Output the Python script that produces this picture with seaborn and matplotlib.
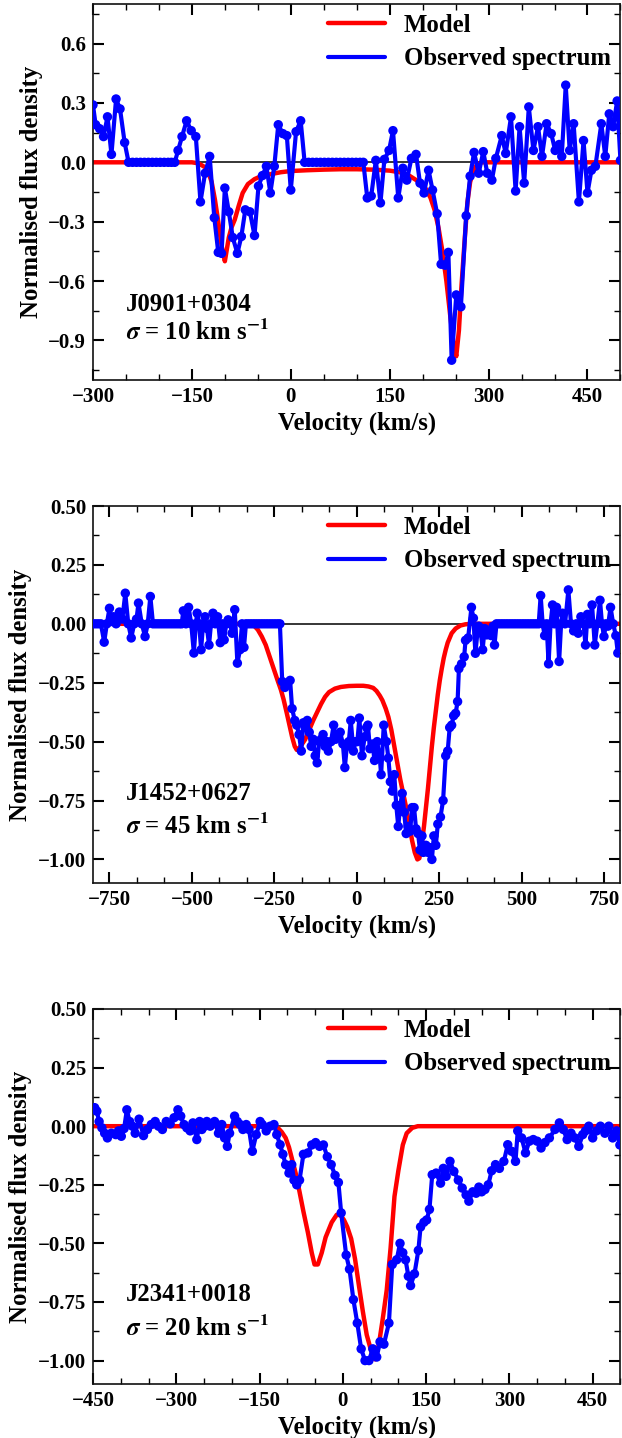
import matplotlib
matplotlib.use("Agg")
import matplotlib.pyplot as plt
from matplotlib.ticker import MultipleLocator, AutoMinorLocator
import seaborn as sns

# ---------------------------------------------------------------- J0901+0304
j0901_vel = [
    -300, -296, -290, -284, -278, -272, -265, -259, -252, -246, -240, -234,
    -228, -222, -216, -210, -204, -198, -192, -186, -181, -176, -171, -165,
    -158, -151, -144, -137, -130, -123, -116, -110, -105, -100, -94, -88,
    -81, -75, -69, -62, -55, -49, -43, -37, -31, -25, -19, -12, -6, 0, 8,
    15, 21, 27, 33, 39, 45, 51, 57, 63, 69, 75, 81, 87, 93, 99, 105, 110,
    116, 122, 129, 136, 142, 149, 155, 163, 170, 176, 183, 190, 196, 202,
    209, 215, 222, 228, 234, 239, 244, 251, 258, 266, 272, 278, 285, 292,
    298, 305, 311, 320, 326, 334, 341, 347, 354, 361, 368, 375, 381, 388,
    395, 401, 407, 411, 417, 423, 429, 437, 444, 450, 456, 462, 471, 477,
    483, 489, 495, 500,
]
j0901_flux = [
    0.29, 0.19, 0.17, 0.13, 0.23, 0.04, 0.32, 0.27, 0.10, 0.0, 0.0, 0.0,
    0.0, 0.0, 0.0, 0.0, 0.0, 0.0, 0.0, 0.0, 0.0, 0.0, 0.06, 0.13,
    0.21, 0.16, 0.13, -0.20, -0.055, 0.03, -0.28, -0.455, -0.46, -0.13, -0.25, -0.38,
    -0.46, -0.375, -0.24, -0.25, -0.37, -0.12, -0.067, -0.02, -0.155, -0.02, 0.19, 0.145, 0.135, -0.14, 0.155,
    0.21, 0.0, 0.0, 0.0, 0.0, 0.0, 0.0, 0.0, 0.0, 0.0, 0.0, 0.0, 0.0, 0.0, 0.0, 0.0, 0.0,
    -0.18, -0.17, 0.01, -0.205, 0.015, 0.06, 0.16, -0.18, -0.03, -0.09, 0.02, 0.04, -0.105, -0.155,
    -0.04, -0.14, -0.26, -0.515, -0.52, -0.455, -1.0, -0.67, -0.73, -0.27, -0.07, 0.05, -0.055, 0.054,
    -0.055, -0.09, 0.02, 0.135, 0.045, 0.23, -0.145, 0.18, -0.105, 0.28, 0.06, 0.18, 0.03, 0.195,
    0.145, 0.06, 0.09, 0.03, 0.39, 0.06, 0.195, -0.2, 0.11, -0.155, -0.04, -0.02, 0.195, 0.03,
    0.245, 0.18, 0.31, 0.01,
]
j0901_model_vel = [
    -300, -150, -140, -130, -125, -120, -115, -110, -105, -100, -97, -94,
    -90, -85, -79, -73, -65, -55, -45, -31, -15, 0, 25, 50, 75, 100, 125,
    150, 165, 180, 195, 205, 212, 218, 224, 230, 236, 242, 247, 251, 255,
    259, 264, 268, 272, 277, 283, 290, 500,
]
j0901_model_flux = [
    0.0, 0.0, -0.005, -0.025, -0.05, -0.10, -0.19, -0.30, -0.42, -0.50, -0.44, -0.38,
    -0.33, -0.29, -0.22, -0.155, -0.11, -0.085, -0.07, -0.06, -0.05, -0.044, -0.04, -0.037, -0.035, -0.035, -0.037,
    -0.042, -0.05, -0.068, -0.10, -0.135, -0.18, -0.24, -0.33, -0.45, -0.60, -0.78, -0.92, -0.98, -0.85,
    -0.62, -0.38, -0.20, -0.10, -0.04, -0.01, 0.0, 0.0,
]

# ---------------------------------------------------------------- J1452+0627
j1452_vel = [
    -800, -792, -784, -776, -766, -758, -750, -744, -738, -730, -720, -711,
    -702, -693, -684, -675, -668, -662, -652, -642, -634, -626, -618, -610,
    -602, -594, -586, -578, -570, -562, -554, -546, -538, -531, -526, -518,
    -510, -502, -494, -488, -484, -478, -472, -466, -460, -454, -448, -442,
    -436, -429, -422, -414, -408, -402, -396, -390, -384, -378, -370, -362,
    -354, -348, -342, -336, -328, -320, -312, -304, -296, -288, -280, -272,
    -264, -256, -248, -240, -233, -226, -218, -210, -202, -196, -188, -182,
    -175, -168, -162, -156, -150, -144, -138, -132, -126, -120, -114, -108,
    -102, -96, -90, -86, -78, -70, -64, -58, -50, -42, -36, -30, -24, -18,
    -10, -4, 2, 8, 16, 24, 30, 34, 40, 48, 54, 62, 70, 74, 82, 90, 96, 102,
    108, 114, 120, 126, 132, 138, 144, 150, 156, 162, 168, 174, 180, 186,
    192, 198, 202, 210, 216, 222, 228, 234, 240, 246, 254, 262, 270, 276,
    282, 288, 294, 300, 306, 310, 318, 326, 330, 338, 348, 354, 360, 366,
    370, 376, 382, 388, 394, 400, 408, 414, 418, 424, 432, 440, 448, 456,
    464, 472, 480, 488, 496, 504, 512, 520, 528, 536, 544, 552, 558, 564,
    570, 576, 582, 588, 594, 600, 606, 614, 620, 624, 632, 642, 650, 658,
    666, 672, 680, 688, 694, 700, 706, 714, 722, 730, 738, 744, 750, 756,
    762, 770, 778, 786, 792, 798,
]
j1452_flux = [
    0.0, 0.0, 0.0, 0.0, -0.078, 0.0, 0.066, 0.01, 0.03, 0.0, 0.05, 0.02,
    0.13, 0.0, -0.06, 0.0, 0.02, 0.088, 0.0, -0.054, 0.0, 0.116, 0.0, 0.0,
    0.0, 0.0, 0.0, 0.0, 0.0, 0.0, 0.0, 0.0, 0.0, 0.0, 0.055, 0.0,
    0.07, 0.0, -0.124, 0.0, 0.045, 0.0, -0.11, 0.0, 0.03, -0.02, -0.09, 0.0,
    0.045, 0.0, 0.03, -0.08, 0.0, -0.068, 0.0, 0.017, 0.0, -0.04, 0.06, -0.167,
    -0.11, 0.0, -0.10, 0.0, 0.0, 0.0, 0.0, 0.0, 0.0, 0.0, 0.0, 0.0,
    0.0, 0.0, 0.0, 0.0, 0.0, -0.245, -0.27, -0.25, -0.24, -0.36, -0.41, -0.43,
    -0.47, -0.54, -0.42, -0.44, -0.41, -0.46, -0.52, -0.49, -0.56, -0.59, -0.50, -0.49,
    -0.47, -0.52, -0.50, -0.54, -0.50, -0.43, -0.49, -0.47, -0.46, -0.51, -0.61, -0.52, -0.50, -0.41,
    -0.54, -0.50, -0.50, -0.40, -0.56, -0.48, -0.44, -0.43, -0.53, -0.51, -0.58, -0.50, -0.57, -0.64, -0.43, -0.50, -0.57, -0.67,
    -0.71, -0.64, -0.77, -0.86, -0.77, -0.72, -0.80, -0.89, -0.86, -0.88, -0.78, -0.78, -0.87, -0.89,
    -0.96, -0.90, -0.97, -0.94, -0.97, -0.95, -1.00, -0.90, -0.94, -0.85, -0.82, -0.75, -0.56, -0.54,
    -0.44, -0.43, -0.39, -0.38, -0.33, -0.19, -0.17, -0.14, -0.07, -0.06, 0.07, 0.024, -0.125, -0.04,
    -0.01, -0.03, -0.11, -0.02, -0.047, -0.03, -0.05, -0.01, -0.09, 0.0, 0.0, 0.0, 0.0, 0.0,
    0.0, 0.0, 0.0, 0.0, 0.0, 0.0, 0.0, 0.0, 0.0, 0.0, 0.0, 0.0, 0.12, 0.0,
    -0.05, 0.0, -0.17, 0.0, 0.08, 0.0, 0.07, -0.16, 0.0, 0.045, 0.0, 0.144, 0.0, -0.03,
    0.0, -0.04, 0.03, 0.0, -0.09, 0.04, 0.0, 0.08, -0.09, 0.0, 0.10, 0.0, -0.054, 0.0,
    -0.01, 0.07, 0.0, -0.05, -0.124, -0.07,
]
j1452_model_vel = [
    -800, -340, -324, -310, -300, -288, -276, -264, -252, -240, -230, -222,
    -212, -204, -196, -188, -182, -176, -168, -156, -144, -132, -120, -108,
    -96, -84, -66, -48, -24, 0, 20, 36, 50, 60, 70, 78, 88, 96, 105, 114,
    123, 132, 141, 150, 159, 168, 176, 184, 190, 196, 204, 210, 216, 222,
    228, 234, 240, 246, 252, 258, 264, 270, 276, 288, 300, 315, 330, 350, 800,
]
j1452_model_flux = [
    0.0, 0.0, -0.002, -0.01, -0.025, -0.054, -0.09, -0.14, -0.19, -0.24, -0.28, -0.32,
    -0.38, -0.43, -0.48, -0.52, -0.535, -0.53, -0.515, -0.49, -0.45, -0.41, -0.375, -0.34,
    -0.31, -0.29, -0.275, -0.268, -0.264, -0.263, -0.263, -0.266, -0.272, -0.285, -0.305, -0.325, -0.36, -0.395, -0.45, -0.52,
    -0.59, -0.66, -0.72, -0.78, -0.85, -0.92, -0.97, -1.0, -0.995, -0.95, -0.86, -0.78, -0.70, -0.61,
    -0.52, -0.44, -0.37, -0.30, -0.24, -0.19, -0.145, -0.11, -0.08, -0.04, -0.02, -0.007, -0.002, 0.0, 0.0,
]

# ---------------------------------------------------------------- J2341+0018
j2341_vel = [
    -447, -443, -439, -434, -429, -424, -417, -409, -404, -399, -394, -389,
    -384, -379, -374, -367, -359, -352, -345, -338, -332, -325, -318, -311,
    -304, -297, -292, -286, -281, -275, -270, -263, -258, -254, -249, -245,
    -239, -231, -224, -218, -213, -208, -204, -195, -190, -185, -180, -174,
    -169, -163, -156, -149, -145, -138, -131, -124, -119, -113, -108, -103,
    -97, -92, -88, -83, -78, -71, -63, -56, -49, -42, -35, -28, -21, -14,
    -8, -3, 6, 12, 19, 26, 33, 40, 47, 54, 61, 67, 74, 83, 89, 97, 103,
    108, 113, 118, 122, 129, 136, 140, 146, 151, 156, 161, 168, 176, 181,
    186, 193, 200, 208, 215, 222, 227, 234, 240, 245, 250, 256, 262, 268,
    275, 282, 290, 297, 304, 311, 315, 322, 329, 336, 343, 350, 357, 364,
    372, 382, 390, 397, 404, 411, 418, 425, 432, 437, 443, 450, 457, 464,
    472, 479, 486, 493, 499,
]
j2341_flux = [
    0.079, 0.064, 0.02, -0.007, -0.03, -0.05, -0.03, -0.036, -0.02, -0.043, -0.01, 0.07,
    0.02, 0.0, -0.03, 0.03, -0.04, -0.014, 0.007, 0.02, 0.0, -0.014, 0.02, 0.01,
    0.036, 0.07, 0.043, 0.007, -0.007, -0.02, 0.014, -0.057, 0.02, -0.014, 0.0, 0.02,
    0.0, 0.02, -0.03, 0.007, -0.05, -0.086, -0.03, 0.043, 0.02, 0.007, -0.014, 0.007,
    -0.014, -0.107, -0.036, 0.02, 0.007, -0.02, 0.0, 0.007, -0.036, -0.079, -0.12, -0.164,
    -0.20, -0.164, -0.23, -0.25, -0.23, -0.12, -0.114, -0.08, -0.07, -0.086, -0.08, -0.13, -0.164, -0.21,
    -0.24, -0.37, -0.55, -0.61, -0.74, -0.84, -0.95, -1.0, -1.0, -0.95, -0.985, -0.92, -0.93, -0.84, -0.59, -0.57, -0.50,
    -0.54, -0.57, -0.64, -0.68, -0.63, -0.53, -0.43, -0.41, -0.40, -0.355, -0.207, -0.20, -0.243, -0.18,
    -0.214, -0.15, -0.193, -0.23, -0.264, -0.293, -0.32, -0.28, -0.286, -0.26, -0.28, -0.27, -0.25, -0.19,
    -0.164, -0.18, -0.15, -0.079, -0.107, -0.15, -0.02, -0.05, -0.114, -0.064, -0.057, -0.064, -0.093, -0.07,
    -0.05, -0.014, 0.014, -0.014, -0.057, -0.03, -0.05, -0.086, -0.036, -0.02, 0.0, -0.05, -0.02, 0.0,
    -0.03, 0.0, -0.05, -0.02, -0.08,
]
j2341_model_vel = [
    -450, -130, -117, -110, -103, -97, -92, -85, -78, -71, -63, -56, -51,
    -45, -38, -31, -20, -11, -4, 2, 8, 15, 22, 29, 36, 43, 50, 55, 58, 65,
    72, 79, 86, 93, 100, 108, 115, 125, 135, 500,
]
j2341_model_flux = [
    0.0, 0.0, -0.007, -0.025, -0.05, -0.09, -0.136, -0.20, -0.28, -0.364, -0.453, -0.54, -0.59,
    -0.59, -0.54, -0.474, -0.41, -0.378, -0.38, -0.40, -0.43, -0.48, -0.567, -0.68, -0.79, -0.89, -0.95, -0.99, -0.995, -0.93,
    -0.82, -0.70, -0.52, -0.30, -0.19, -0.08, -0.03, -0.007, 0.0, 0.0,
]

panels = [
    dict(name="J0901+0304", sigma=10, vel=j0901_vel, flux=j0901_flux,
         mvel=j0901_model_vel, mflux=j0901_model_flux,
         xlim=(-300, 500), xstep=150, ylim=(-1.1, 0.8), ystep=0.3,
         rect=[0.1495, 1 - 380 / 1438, 0.848, 376 / 1438]),
    dict(name="J1452+0627", sigma=45, vel=j1452_vel, flux=j1452_flux,
         mvel=j1452_model_vel, mflux=j1452_model_flux,
         xlim=(-800, 800), xstep=250, ylim=(-1.1, 0.5), ystep=0.25,
         rect=[0.1495, 1 - 883 / 1438, 0.848, 377 / 1438]),
    dict(name="J2341+0018", sigma=20, vel=j2341_vel, flux=j2341_flux,
         mvel=j2341_model_vel, mflux=j2341_model_flux,
         xlim=(-450, 500), xstep=150, ylim=(-1.1, 0.5), ystep=0.25,
         rect=[0.1495, 1 - 1384 / 1438, 0.848, 375 / 1438]),
]

sns.set_style("ticks")
plt.rcParams.update({
    "font.family": ["Liberation Serif", "DejaVu Serif"],
    "font.weight": "bold",
    "axes.labelweight": "bold",
    "mathtext.fontset": "stix",
    "axes.linewidth": 1.2,
    "axes.edgecolor": "#111111",
    "text.color": "black",
    "axes.labelcolor": "black",
    "xtick.color": "black",
    "ytick.color": "black",
})

fig = plt.figure(figsize=(6.22, 14.38), dpi=100)

for p in panels:
    ax = fig.add_axes(p["rect"])
    ax.axhline(0, color="black", lw=1.1, zorder=1)
    sns.lineplot(x=p["mvel"], y=p["mflux"], ax=ax, color="#ff0000", lw=3.2,
                 label="Model", sort=False, zorder=2)
    sns.lineplot(x=p["vel"], y=p["flux"], ax=ax, color="#0000ff", lw=3.0,
                 label="Observed spectrum", sort=False, zorder=3)
    sns.scatterplot(x=p["vel"], y=p["flux"], ax=ax, color="#0000ff", s=46,
                    edgecolor="none", linewidth=0, legend=False, zorder=4)

    ax.set_xlim(*p["xlim"])
    ax.set_ylim(*p["ylim"])
    ax.xaxis.set_major_locator(MultipleLocator(p["xstep"]))
    ax.xaxis.set_minor_locator(AutoMinorLocator(3))
    ax.yaxis.set_major_locator(MultipleLocator(p["ystep"]))
    ax.yaxis.set_minor_locator(AutoMinorLocator(2))
    ax.tick_params(which="both", direction="in", top=True, right=True,
                   labelsize=15, pad=5)
    ax.tick_params(which="major", length=8, width=1.5)
    ax.tick_params(which="minor", length=4.5, width=1.0)
    for lab in ax.get_xticklabels() + ax.get_yticklabels():
        lab.set_fontweight("bold")

    ax.set_xlabel("Velocity (km/s)", fontsize=17.8, fontweight="bold", labelpad=3)
    ax.set_ylabel("Normalised flux density", fontsize=17.8, fontweight="bold", labelpad=4)

    x0 = p["xlim"][0] + 0.063 * (p["xlim"][1] - p["xlim"][0])
    ax.text(x0, -0.72, p["name"], fontsize=17.8, fontweight="bold", va="center")
    ax.text(x0, -0.86, r"$\sigma$ = %d km s$^{-1}$" % p["sigma"], fontsize=17.8,
            fontweight="bold", va="center")

    ax.legend(loc="upper right", frameon=False, handlelength=2.3,
              handletextpad=0.75, labelspacing=0.42, borderaxespad=0.1,
              borderpad=0.3, prop={"weight": "bold", "size": 17.8})

fig.savefig("out.png", dpi=100)
